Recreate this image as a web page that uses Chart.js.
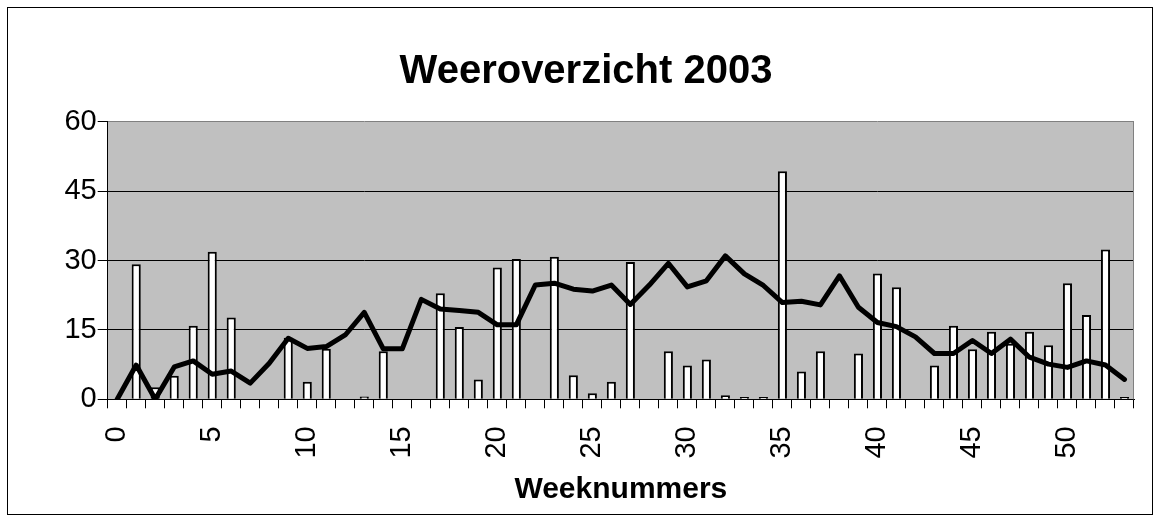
<!DOCTYPE html>
<html>
<head>
<meta charset="utf-8">
<script src="https://cdn.jsdelivr.net/npm/chart.js@4/dist/chart.umd.min.js"></script>
<style>
  html, body { margin: 0; padding: 0; background: #fff; }
  #wrap { position: relative; width: 1160px; height: 521px; }
  #c { position: absolute; left: 0; top: 0; }
  #frame { position: absolute; left: 7px; top: 7px; width: 1144px; height: 506px; border: 1px solid #000; pointer-events: none; }
</style>
</head>
<body>
<div id="wrap">
  <canvas id="c" width="1160" height="521"></canvas>
  <div id="frame"></div>
</div>
<script>
const weeks = [0,1,2,3,4,5,6,7,8,9,10,11,12,13,14,15,16,17,18,19,20,21,22,23,24,25,26,27,28,29,30,31,32,33,34,35,36,37,38,39,40,41,42,43,44,45,46,47,48,49,50,51,52,53];

const barValues = [null, 29.2, 2.6, 5.1, 15.9, 31.9, 17.7, null, null, 13.3,
  3.8, 10.9, null, 0.6, 10.4, null, null, 22.9, 15.6, 4.3,
  28.5, 30.3, null, 30.8, 5.2, 1.3, 3.8, 29.7, null, 10.4,
  7.3, 8.6, 0.9, 0.5, 0.5, 49.3, 6.0, 10.4, null, 9.9,
  27.2, 24.2, null, 7.3, 15.9, 10.8, 14.6, 12.0, 14.6, 11.7,
  25.1, 18.2, 32.4, 0.5];

const lineValues = [0, 7.4, 0, 7.0, 8.3, 5.4, 6.1, 3.5, 7.8, 13.2,
  11.0, 11.4, 13.9, 18.8, 10.9, 10.9, 21.6, 19.5, 19.2, 18.8,
  16.1, 16.1, 24.7, 25.1, 23.8, 23.4, 24.7, 20.5, 24.7, 29.4,
  24.3, 25.6, 31.0, 27.1, 24.6, 20.9, 21.2, 20.4, 26.7, 19.9,
  16.6, 15.7, 13.5, 9.9, 9.9, 12.7, 9.9, 13.0, 9.1, 7.6,
  6.9, 8.3, 7.4, 4.3];

const yTicks = [0, 15, 30, 45, 60];
const chartTitle = 'Weeroverzicht 2003';
const xTitle = 'Weeknummers';

const FONT = "'Liberation Sans', Arial, Helvetica, sans-serif";

const plotBg = {
  id: 'plotBg',
  beforeDraw(chart) {
    const {ctx, chartArea: a} = chart;
    ctx.save();
    ctx.fillStyle = '#C0C0C0';
    ctx.fillRect(a.left, a.top, a.right - a.left, a.bottom - a.top);
    ctx.restore();
  },
  beforeDatasetsDraw(chart) {
    const {ctx, chartArea: a} = chart;
    ctx.save();
    ctx.strokeStyle = '#808080';
    ctx.lineWidth = 1;
    ctx.beginPath();
    ctx.moveTo(a.right - 0.5, a.top);
    ctx.lineTo(a.right - 0.5, a.bottom);
    ctx.stroke();
    ctx.restore();
  }
};

new Chart(document.getElementById('c'), {
  data: {
    labels: weeks,
    datasets: [
      {
        type: 'line',
        data: lineValues,
        borderColor: '#000',
        borderWidth: 5,
        pointRadius: 0,
        tension: 0,
        borderJoinStyle: 'round',
        borderCapStyle: 'round',
        order: 0
      },
      {
        type: 'bar',
        data: barValues,
        backgroundColor: '#fff',
        borderColor: '#000',
        borderWidth: 2,
        categoryPercentage: 1,
        barPercentage: 0.48,
        order: 1
      }
    ]
  },
  options: {
    responsive: false,
    animation: false,
    devicePixelRatio: 1,
    layout: { padding: { left: 38, right: 26, top: 0, bottom: 0 } },
    plugins: {
      legend: { display: false },
      tooltip: { enabled: false },
      title: {
        display: true,
        text: chartTitle,
        color: '#000',
        font: { family: FONT, size: 40, weight: 'bold', lineHeight: 1.2 },
        padding: { top: 48, bottom: 25.7 }
      }
    },
    scales: {
      x: {
        type: 'category',
        offset: true,
        grid: {
          offset: true,
          drawOnChartArea: false,
          drawTicks: true,
          tickLength: 9,
          color: '#000',
          tickColor: '#000'
        },
        border: { display: true, color: '#000', width: 1 },
        ticks: {
          autoSkip: false,
          minRotation: 90,
          maxRotation: 90,
          padding: 18,
          color: '#000',
          font: { family: FONT, size: 29 },
          callback: function(value, index) {
            return index % 5 === 0 ? String(weeks[index]) : '';
          }
        },
        title: {
          display: true,
          text: xTitle,
          color: '#000',
          font: { family: FONT, size: 30, weight: 'bold', lineHeight: 1.2 },
          padding: { top: 0, bottom: 13 }
        },
        afterFit(scale) {
          scale.height = 121.7;
          scale.paddingLeft = 0;
          scale.paddingRight = 0;
        }
      },
      y: {
        min: yTicks[0],
        max: yTicks[yTicks.length - 1],
        afterBuildTicks(scale) { scale.ticks = yTicks.map(v => ({ value: v })); },
        grid: {
          color: ctx => (ctx.tick && ctx.tick.value === 60) ? '#808080' : '#000',
          tickColor: '#000',
          lineWidth: 1,
          drawTicks: true,
          tickLength: 10
        },
        border: { display: true, color: '#000', width: 1 },
        ticks: {
          padding: 1,
          color: '#000',
          font: { family: FONT, size: 29 }
        },
        afterFit(scale) { scale.width = 69.7; }
      }
    }
  },
  plugins: [plotBg]
});
</script>
</body>
</html>
